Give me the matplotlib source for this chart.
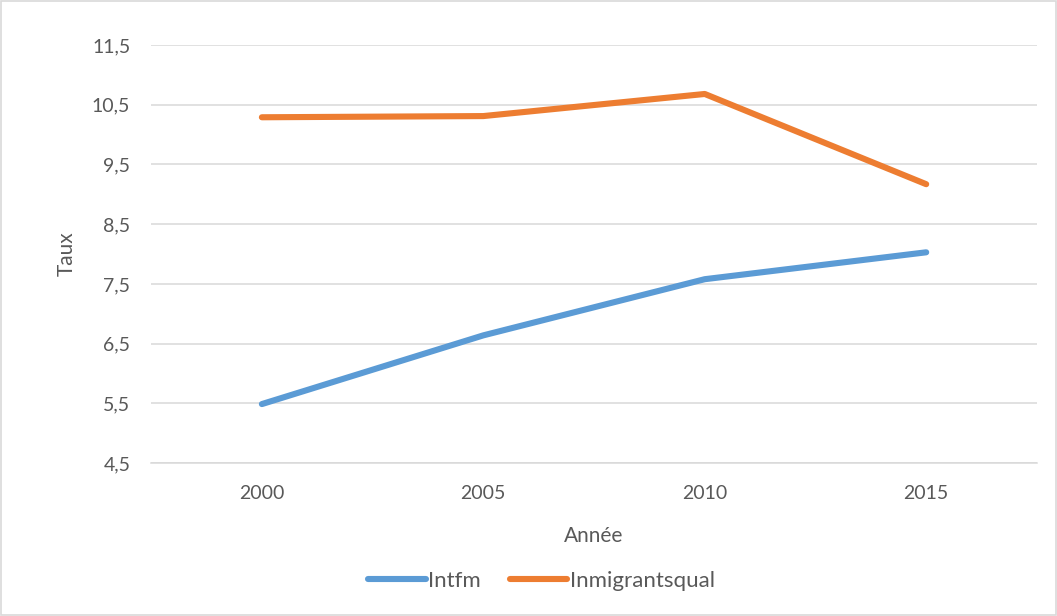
import matplotlib.pyplot as plt
from matplotlib.patches import Rectangle
import numpy as np

# ================= 数据 =================
years = ['2000', '2005', '2010', '2015']
intfm = [5.49, 6.64, 7.58, 8.03]
inmigrantsqual = [10.29, 10.31, 10.68, 9.17]

y_ticks = [4.5, 5.5, 6.5, 7.5, 8.5, 9.5, 10.5, 11.5]

if __name__ == '__main__':
    plt.rcParams['font.family'] = ['Lato', 'DejaVu Sans']
    text_color = '#595959'

    fig = plt.figure(figsize=(10.57, 6.16), dpi=100)
    ax = fig.add_axes([0.143, 0.248, 0.838, 0.679])

    x_pos = np.arange(len(years))
    ax.plot(x_pos, intfm, color='#5B9BD5', linewidth=4.4, solid_capstyle='round',
            solid_joinstyle='round', label='Intfm', zorder=3)
    ax.plot(x_pos, inmigrantsqual, color='#ED7D31', linewidth=4.4, solid_capstyle='round',
            solid_joinstyle='round', label='Inmigrantsqual', zorder=3)

    ax.set_xlim(-0.5, len(years) - 0.5)
    ax.set_ylim(4.5, 11.5)
    ax.set_yticks(y_ticks)
    ax.set_yticklabels([f'{v:.1f}'.replace('.', ',') for v in y_ticks])
    ax.set_xticks(x_pos)
    ax.set_xticklabels(years)

    ax.grid(axis='y', color='#D9D9D9', linewidth=1.1, zorder=0)
    for s in ['top', 'right', 'left']:
        ax.spines[s].set_visible(False)
    ax.spines['bottom'].set_color('#D9D9D9')
    ax.spines['bottom'].set_linewidth(1.1)
    ax.tick_params(length=0, labelsize=14, colors=text_color)
    ax.tick_params(axis='x', pad=16)
    ax.tick_params(axis='y', pad=15)

    ax.set_ylabel('Taux', fontsize=15, color=text_color, labelpad=11)
    ax.set_xlabel('Année', fontsize=15, color=text_color, labelpad=17)

    fig.legend(loc='center', bbox_to_anchor=(0.512, 0.057), ncol=2, frameon=False,
               fontsize=16, labelcolor=text_color, handlelength=2.6, handletextpad=0.1,
               columnspacing=1.3)

    fig.patches.append(Rectangle((0.001, 0.001), 0.998, 0.997, transform=fig.transFigure,
                                 fill=False, edgecolor='#D9D9D9', linewidth=1.2))

    plt.savefig('out.png', dpi=100)
